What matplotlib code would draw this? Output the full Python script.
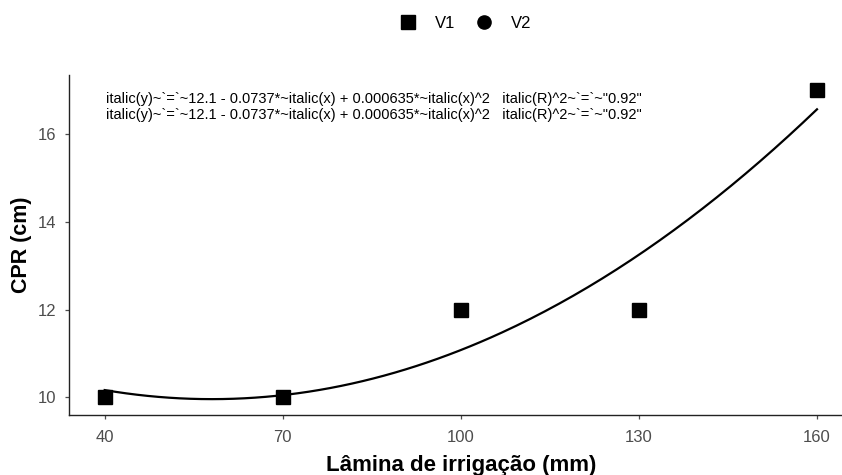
import numpy as np
import matplotlib.pyplot as plt
from matplotlib.lines import Line2D

plt.rcParams['font.family'] = ['Liberation Sans', 'DejaVu Sans']

# irrigation depth (mm) and CPR (cm) for the two varieties
lamina = [40, 70, 100, 130, 160]
cpr_v1 = [10, 10, 12, 12, 17]
cpr_v2 = [10, 10, 12, 12, 17]

# quadratic fit: y = b0 + b1*x + b2*x^2
coef = [12.1, -0.0737, 0.000635]
r2 = "0.92"
eq_text = ('italic(y)~`=`~12.1 - 0.0737*~italic(x) + 0.000635*~italic(x)^2   '
           'italic(R)^2~`=`~"' + r2 + '"')

fig = plt.figure(figsize=(8.42, 4.75), dpi=100)
ax = fig.add_axes([0.082, 0.1263, 0.9306, 0.7162])

xs = np.linspace(min(lamina), max(lamina), 200)
ys = coef[0] + coef[1] * xs + coef[2] * xs ** 2
ax.plot(xs, ys, color='black', lw=1.6)

ax.plot(lamina, cpr_v2, 'o', color='black', ms=9.5, ls='none')
ax.plot(lamina, cpr_v1, 's', color='black', ms=9.5, ls='none')

# one equation label per variety (both fits are identical)
for dy in (0.0, 0.36):
    ax.text(40.2, 16.8 - dy, eq_text, fontsize=10.5, color='black',
            ha='left', va='center')

ax.set_xlim(34, 166)
ax.set_ylim(9.6, 17.35)
ax.set_xticks([40, 70, 100, 130, 160])
ax.set_yticks([10, 12, 14, 16])
for s in ('top', 'right'):
    ax.spines[s].set_visible(False)
for s in ('left', 'bottom'):
    ax.spines[s].set_linewidth(1.0)
    ax.spines[s].set_color('#222222')
ax.tick_params(labelsize=12, colors='#4d4d4d', length=3, width=0.9, pad=6)
ax.tick_params(axis='x', pad=8)
ax.set_xlabel('Lâmina de irrigação (mm)', fontsize=16, fontweight='bold', labelpad=7)
ax.set_ylabel('CPR (cm)', fontsize=15.5, fontweight='bold', labelpad=4)

handles = [Line2D([], [], marker='s', color='black', ls='none', ms=9.5),
           Line2D([], [], marker='o', color='black', ls='none', ms=9.5)]
fig.legend(handles, ['V1', 'V2'], loc='center', bbox_to_anchor=(0.553, 0.951),
           ncol=2, frameon=False, fontsize=12, handlelength=1.0,
           handletextpad=1.1, columnspacing=1.24)

fig.savefig('out.png', dpi=100)
